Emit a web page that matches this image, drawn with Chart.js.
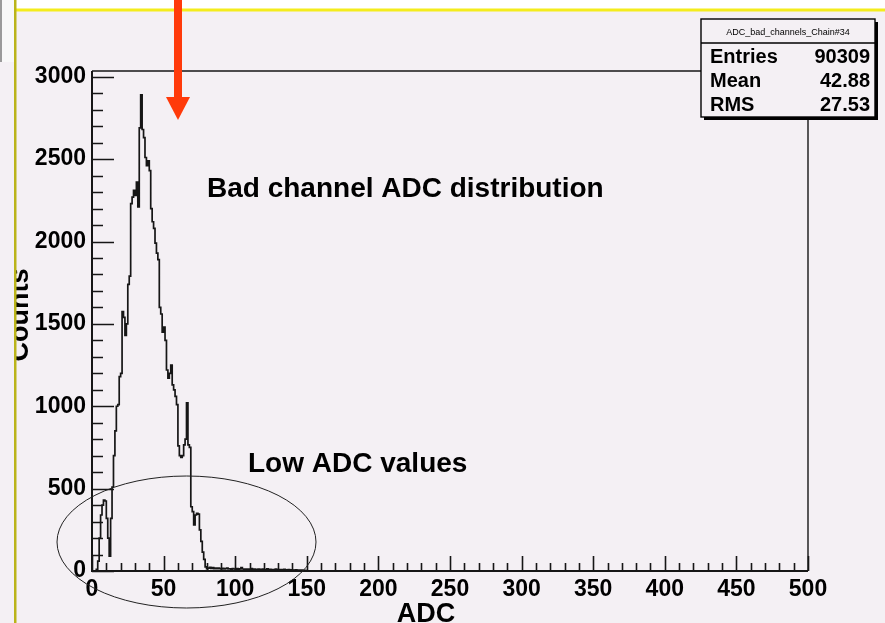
<!DOCTYPE html>
<html>
<head>
<meta charset="utf-8">
<title>Bad channel ADC distribution</title>
<script src="https://cdn.jsdelivr.net/npm/chart.js@4/dist/chart.umd.min.js"></script>
<style>
  html, body { margin: 0; padding: 0; background: #f4f0f4; }
  #wrap { width: 885px; height: 623px; }
</style>
</head>
<body>
<div id="wrap"><canvas id="adc" width="885" height="623"></canvas></div>
<script>
// histogram: one bin per ADC count, starting at 0
const binWidth = 1;
const adcCounts = [
  0, 0, 0, 0, 10, 60, 200, 340, 400, 430,
  425, 320, 200, 90, 320, 510, 700, 850, 1000, 1010,
  1180, 1200, 1575, 1540, 1430, 1500, 1740, 1790, 2230, 2270,
  2310, 2280, 2360, 2210, 2690, 2890, 2680, 2630, 2510, 2460,
  2490, 2430, 2200, 2120, 2080, 1990, 1930, 1890, 1600, 1560,
  1450, 1480, 1400, 1220, 1170, 1200, 1250, 1130, 1100, 1060,
  1010, 760, 700, 690, 700, 765, 800, 1020, 765, 750,
  390, 360, 280, 340, 350, 345, 250, 180, 115, 70,
  25, 14, 18, 22, 16, 20, 15, 18, 14, 17,
  15, 13, 16, 12, 14, 18, 12, 13, 11, 15,
  12, 10, 14, 11, 13, 20, 12, 10, 11, 9,
  12, 10, 14, 9, 11, 10, 8, 12, 9, 10,
  11, 8, 9, 13, 8, 10, 7, 9, 8, 11,
  7, 8, 9, 6, 8, 10, 7, 6, 8, 5,
  7, 6, 5, 7, 4, 6, 4, 5, 3, 4,
  3, 0
];
const xMin = 0;
const xMax = 500;
const yMax = 3035;
const xTickLabels = [0, 50, 100, 150, 200, 250, 300, 350, 400, 450, 500];
const yTickLabels = [0, 500, 1000, 1500, 2000, 2500, 3000];
const statsTitle = 'ADC_bad_channels_Chain#34';
const statsNames = ['Entries', 'Mean', 'RMS'];
const statsValues = ['90309', '42.88', '27.53'];

const FONT = "'Liberation Sans', Arial, Helvetica, sans-serif";
const BG = '#f4f0f4';
const INK = '#161616';

// step points at each bin low edge, closed at the axis end
const points = adcCounts.map((v, i) => ({ x: xMin + i * binWidth, y: v }));
points.push({ x: xMax, y: 0 });

const rootStyle = {
  id: 'rootStyle',
  beforeDraw(chart) {
    const ctx = chart.ctx;
    ctx.save();
    ctx.fillStyle = BG;
    ctx.fillRect(0, 0, chart.width, chart.height);
    // window decoration from the screenshot
    ctx.fillStyle = '#ffffff';
    ctx.fillRect(16, 0, chart.width, 9);
    ctx.fillStyle = '#f8f8f8';
    ctx.fillRect(0, 0, 14, 62);
    ctx.fillStyle = '#9a9a9a';
    ctx.fillRect(0, 0, 2, 62);
    ctx.restore();
  },
  afterDatasetsDraw(chart) {
    const ctx = chart.ctx;
    const a = chart.chartArea;
    const xs = chart.scales.x, ys = chart.scales.y;
    ctx.save();
    ctx.strokeStyle = INK;
    // frame
    ctx.lineWidth = 1.4;
    ctx.beginPath();
    ctx.moveTo(a.left, a.top); ctx.lineTo(a.right, a.top); ctx.lineTo(a.right, a.bottom);
    ctx.stroke();
    ctx.lineWidth = 2;
    ctx.beginPath();
    ctx.moveTo(a.left, a.top); ctx.lineTo(a.left, a.bottom); ctx.lineTo(a.right, a.bottom);
    ctx.stroke();
    // inward ticks, 5 divisions per major step
    ctx.lineWidth = 1.6;
    ctx.beginPath();
    const xStep = xTickLabels[1] - xTickLabels[0];
    for (let v = xMin; v <= xMax + 1e-6; v += xStep / 5) {
      const major = Math.abs(v / xStep - Math.round(v / xStep)) < 1e-6;
      const px = Math.round(xs.getPixelForValue(v)) + 0.5;
      ctx.moveTo(px, a.bottom);
      ctx.lineTo(px, a.bottom - (major ? 15 : 8));
    }
    const yStep = yTickLabels[1] - yTickLabels[0];
    for (let v = 0; v <= yMax; v += yStep / 5) {
      const major = Math.abs(v / yStep - Math.round(v / yStep)) < 1e-6;
      const py = Math.round(ys.getPixelForValue(v)) + 0.5;
      ctx.moveTo(a.left, py);
      ctx.lineTo(a.left + (major ? 22 : 11), py);
    }
    ctx.stroke();
    ctx.restore();
  },
  afterDraw(chart) {
    const ctx = chart.ctx;
    ctx.save();
    ctx.fillStyle = '#000';
    ctx.textBaseline = 'alphabetic';

    // annotations
    ctx.font = 'bold 28px ' + FONT;
    ctx.textAlign = 'left';
    ctx.fillText('Bad channel ADC distribution', 207, 197);
    ctx.fillText('Low ADC values', 248, 472);

    // axis titles
    ctx.font = 'bold 27px ' + FONT;
    ctx.textAlign = 'center';
    ctx.fillText('ADC', 426, 622);
    ctx.save();
    ctx.beginPath();
    ctx.rect(16, 0, 200, chart.height);
    ctx.clip();
    ctx.translate(28, 315);
    ctx.rotate(-Math.PI / 2);
    ctx.fillText('Counts', 0, 0);
    ctx.restore();

    // ellipse around the low ADC region
    ctx.strokeStyle = '#222';
    ctx.lineWidth = 1;
    ctx.beginPath();
    ctx.ellipse(186.5, 542, 129.5, 66, 0, 0, Math.PI * 2);
    ctx.stroke();

    // stats box
    const bx = 701, by = 19, bw = 174, bh = 98;
    ctx.fillStyle = '#000';
    ctx.fillRect(bx + 3, by + 3, bw, bh);
    ctx.fillStyle = BG;
    ctx.fillRect(bx, by, bw, bh);
    ctx.strokeStyle = '#000';
    ctx.lineWidth = 1.4;
    ctx.strokeRect(bx, by, bw, bh);
    ctx.beginPath();
    ctx.moveTo(bx, by + 24); ctx.lineTo(bx + bw, by + 24);
    ctx.stroke();
    ctx.fillStyle = '#000';
    ctx.font = '9px ' + FONT;
    ctx.textAlign = 'center';
    ctx.fillText(statsTitle, bx + bw / 2, by + 16, 134);
    ctx.font = 'bold 20px ' + FONT;
    statsNames.forEach((n, i) => {
      const yy = 63 + i * 24;
      ctx.textAlign = 'left';
      ctx.fillText(n, bx + 9, yy);
      ctx.textAlign = 'right';
      ctx.fillText(statsValues[i], bx + bw - 5, yy);
    });

    // window borders
    ctx.fillStyle = '#f4ec1c';
    ctx.fillRect(16, 8.5, chart.width, 3);
    ctx.fillStyle = '#bab41a';
    ctx.fillRect(14, 0, 2.5, chart.height);

    // red arrow
    ctx.fillStyle = '#ff3a0a';
    ctx.fillRect(174, 0, 8, 98);
    ctx.beginPath();
    ctx.moveTo(166, 97); ctx.lineTo(190, 97); ctx.lineTo(178, 120);
    ctx.closePath();
    ctx.fill();
    ctx.restore();
  }
};

const tickFont = { family: FONT, size: 23, weight: 'bold' };

new Chart(document.getElementById('adc'), {
  type: 'line',
  data: {
    datasets: [{
      label: 'ADC_bad_channels_Chain#34',
      data: points,
      stepped: 'after',
      borderColor: INK,
      borderWidth: 1.7,
      pointRadius: 0,
      fill: false
    }]
  },
  options: {
    responsive: false,
    animation: false,
    devicePixelRatio: 1,
    layout: { padding: { top: 71, right: 77, left: 0, bottom: 0 } },
    plugins: { legend: { display: false }, tooltip: { enabled: false } },
    scales: {
      x: {
        type: 'linear',
        min: xMin,
        max: xMax,
        afterBuildTicks: s => { s.ticks = xTickLabels.map(v => ({ value: v })); },
        afterFit: s => { s.height = 52; },
        grid: { display: false, drawTicks: false },
        border: { display: false },
        ticks: { font: tickFont, color: '#000', padding: 5, maxRotation: 0, autoSkip: false,
                 callback: v => String(v) }
      },
      y: {
        type: 'linear',
        min: 0,
        max: yMax,
        afterBuildTicks: s => { s.ticks = yTickLabels.map(v => ({ value: v })); },
        afterFit: s => { s.width = 92; },
        grid: { display: false, drawTicks: false },
        border: { display: false },
        ticks: { font: tickFont, color: '#000', padding: 6, autoSkip: false,
                 callback: v => String(v) }
      }
    }
  },
  plugins: [rootStyle]
});
</script>
</body>
</html>
